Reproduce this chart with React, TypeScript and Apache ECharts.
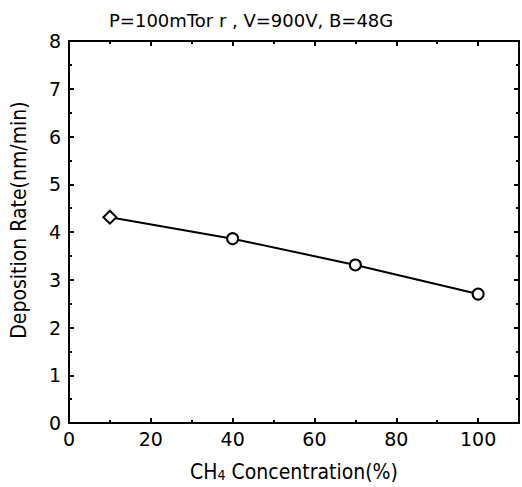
import React, { useEffect, useRef } from "react";
import * as echarts from "echarts";

const concentration = [10, 40, 70, 100];
const depositionRate = [4.31, 3.86, 3.31, 2.7];
const markerShapes = ["diamond", "circle", "circle", "circle"];
const xTicks = [0, 20, 40, 60, 80, 100];
const yTicks = [0, 1, 2, 3, 4, 5, 6, 7, 8];
const titleText = "P=100mTor r , V=900V, B=48G";
const xName = "CH{sub|4} Concentration(%)";
const yName = "Deposition Rate(nm/min)";

const narrow = "'Liberation Sans Narrow', 'DejaVu Sans Condensed', Roboto, 'Liberation Sans', sans-serif";

export default function App() {
  const ref = useRef<HTMLDivElement>(null);
  useEffect(() => {
    if (!ref.current) return;
    const chart = echarts.init(ref.current, undefined, { renderer: "svg" });
    const tickLabelFont = { fontFamily: "DejaVu Sans", fontSize: 19, color: "#000" };
    const axisLine = { show: true, onZero: false, lineStyle: { color: "#000", width: 2 } };
    chart.setOption({
      animation: false,
      backgroundColor: "#fff",
      title: {
        text: titleText,
        left: 104,
        top: 6,
        textStyle: { fontFamily: "DejaVu Sans", fontWeight: "normal", fontSize: 18, color: "#000" },
      },
      grid: { left: 65, top: 41, right: 1, bottom: 64 },
      xAxis: [
        {
          type: "value",
          min: 0,
          max: 110,
          interval: 20,
          position: "bottom",
          axisLine,
          axisTick: { inside: true, length: 5, lineStyle: { width: 2, color: "#000" } },
          minorTick: { show: true, splitNumber: 2, length: 3, lineStyle: { width: 2, color: "#000" } },
          splitLine: { show: false },
          axisLabel: {
            ...tickLabelFont,
            margin: 6,
            formatter: (v: number) => (xTicks.includes(v) ? String(v) : ""),
          },
          name: xName,
          nameLocation: "middle",
          nameGap: 38,
          nameTextStyle: {
            fontFamily: narrow,
            fontSize: 21,
            color: "#000",
            rich: { sub: { fontFamily: narrow, fontSize: 14, color: "#000", verticalAlign: "bottom", padding: [6, 0, 0, 0] } },
          },
        },
        {
          type: "value",
          min: 0,
          max: 110,
          interval: 20,
          position: "top",
          axisLine,
          axisTick: { inside: true, length: 5, lineStyle: { width: 2, color: "#000" } },
          minorTick: { show: true, splitNumber: 2, length: 3, lineStyle: { width: 2, color: "#000" } },
          splitLine: { show: false },
          axisLabel: { show: false },
        },
      ],
      yAxis: [
        {
          type: "value",
          min: 0,
          max: 8,
          interval: 1,
          position: "left",
          axisLine,
          axisTick: { inside: true, length: 5, lineStyle: { width: 2, color: "#000" } },
          minorTick: { show: true, splitNumber: 2, length: 3, lineStyle: { width: 2, color: "#000" } },
          splitLine: { show: false },
          axisLabel: {
            ...tickLabelFont,
            margin: 8,
            formatter: (v: number) => (yTicks.includes(v) ? String(v) : ""),
          },
          name: yName,
          nameLocation: "middle",
          nameGap: 40,
          nameTextStyle: { fontFamily: narrow, fontSize: 21, color: "#000", padding: [0, 0, 0, 24] },
        },
        {
          type: "value",
          min: 0,
          max: 8,
          interval: 1,
          position: "right",
          axisLine,
          axisTick: { inside: true, length: 5, lineStyle: { width: 2, color: "#000" } },
          minorTick: { show: true, splitNumber: 2, length: 3, lineStyle: { width: 2, color: "#000" } },
          splitLine: { show: false },
          axisLabel: { show: false },
        },
      ],
      series: [
        {
          type: "line",
          xAxisIndex: 0,
          yAxisIndex: 0,
          data: concentration.map((x, i) => ({
            value: [x, depositionRate[i]],
            symbol: markerShapes[i],
            symbolSize: markerShapes[i] === "diamond" ? 13 : 11,
          })),
          lineStyle: { color: "#000", width: 2 },
          itemStyle: { color: "#fff", borderColor: "#000", borderWidth: 2 },
          showSymbol: true,
          z: 3,
        },
      ],
    });
    return () => chart.dispose();
  }, []);
  return (
    <div
      ref={ref}
      style={{ position: "fixed", left: 0, top: 0, width: 522, height: 487 }}
    />
  );
}
